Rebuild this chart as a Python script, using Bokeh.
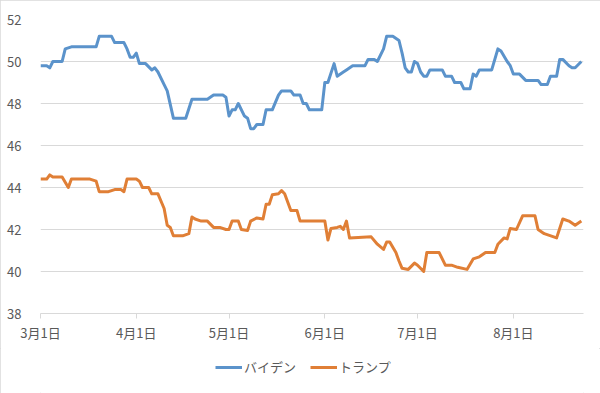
import pandas as pd
from bokeh.plotting import figure
from bokeh.layouts import column
from bokeh.models import Range1d, FixedTicker, Legend, LegendItem
from bokeh.embed import file_html
from bokeh.resources import INLINE

# ---------------- data ----------------
series_names = ["バイデン", "トランプ"]

biden_dates = [
    "2020-03-01", "2020-03-03", "2020-03-04", "2020-03-05", "2020-03-08", "2020-03-09",
    "2020-03-11", "2020-03-19", "2020-03-20", "2020-03-24", "2020-03-25", "2020-03-28",
    "2020-03-29", "2020-03-30", "2020-03-31", "2020-04-01", "2020-04-02", "2020-04-04",
    "2020-04-06", "2020-04-07", "2020-04-08", "2020-04-10", "2020-04-11", "2020-04-13",
    "2020-04-17", "2020-04-19", "2020-04-24", "2020-04-26", "2020-04-29", "2020-04-30",
    "2020-05-01", "2020-05-02", "2020-05-03", "2020-05-04", "2020-05-06", "2020-05-07",
    "2020-05-08", "2020-05-09", "2020-05-10", "2020-05-12", "2020-05-13", "2020-05-15",
    "2020-05-17", "2020-05-18", "2020-05-21", "2020-05-22", "2020-05-24", "2020-05-25",
    "2020-05-26", "2020-05-27", "2020-05-31", "2020-06-01", "2020-06-02", "2020-06-04",
    "2020-06-05", "2020-06-07", "2020-06-08", "2020-06-10", "2020-06-14", "2020-06-15",
    "2020-06-17", "2020-06-18", "2020-06-20", "2020-06-21", "2020-06-23", "2020-06-25",
    "2020-06-26", "2020-06-27", "2020-06-28", "2020-06-29", "2020-06-30", "2020-07-01",
    "2020-07-02", "2020-07-03", "2020-07-04", "2020-07-05", "2020-07-09", "2020-07-10",
    "2020-07-12", "2020-07-13", "2020-07-15", "2020-07-16", "2020-07-18", "2020-07-19",
    "2020-07-20", "2020-07-21", "2020-07-25", "2020-07-27", "2020-07-28", "2020-07-30",
    "2020-07-31", "2020-08-01", "2020-08-03", "2020-08-05", "2020-08-09", "2020-08-10",
    "2020-08-12", "2020-08-13", "2020-08-15", "2020-08-16", "2020-08-17", "2020-08-19",
    "2020-08-20", "2020-08-21", "2020-08-23",
]
biden_values = [
    49.8, 49.8, 49.7, 50.0, 50.0, 50.6,
    50.7, 50.7, 51.2, 51.2, 50.9, 50.9,
    50.6, 50.2, 50.2, 50.4, 49.9, 49.9,
    49.6, 49.7, 49.5, 48.9, 48.6, 47.3,
    47.3, 48.2, 48.2, 48.4, 48.4, 48.3,
    47.4, 47.7, 47.7, 48.0, 47.4, 47.3,
    46.8, 46.8, 47.0, 47.0, 47.7, 47.7,
    48.4, 48.6, 48.6, 48.4, 48.4, 48.0,
    48.0, 47.7, 47.7, 49.0, 49.0, 49.9,
    49.3, 49.5, 49.6, 49.8, 49.8, 50.1,
    50.1, 50.0, 50.6, 51.2, 51.2, 51.0,
    50.4, 49.7, 49.5, 49.5, 50.0, 49.9,
    49.5, 49.3, 49.3, 49.6, 49.6, 49.3,
    49.3, 49.0, 49.0, 48.7, 48.7, 49.4,
    49.3, 49.6, 49.6, 50.6, 50.5, 50.0,
    49.8, 49.4, 49.4, 49.1, 49.1, 48.9,
    48.9, 49.3, 49.3, 50.1, 50.1, 49.8,
    49.7, 49.7, 50.0,
]

trump_dates = [
    "2020-03-01", "2020-03-03", "2020-03-04", "2020-03-05", "2020-03-08", "2020-03-10",
    "2020-03-11", "2020-03-17", "2020-03-19", "2020-03-20", "2020-03-23", "2020-03-25",
    "2020-03-27", "2020-03-28", "2020-03-29", "2020-04-01", "2020-04-02", "2020-04-03",
    "2020-04-05", "2020-04-06", "2020-04-08", "2020-04-10", "2020-04-11", "2020-04-12",
    "2020-04-13", "2020-04-16", "2020-04-18", "2020-04-19", "2020-04-20", "2020-04-22",
    "2020-04-24", "2020-04-26", "2020-04-28", "2020-04-30", "2020-05-01", "2020-05-02",
    "2020-05-04", "2020-05-05", "2020-05-07", "2020-05-08", "2020-05-10", "2020-05-12",
    "2020-05-13", "2020-05-14", "2020-05-15", "2020-05-17", "2020-05-18", "2020-05-19",
    "2020-05-21", "2020-05-23", "2020-05-24", "2020-06-01", "2020-06-02", "2020-06-03",
    "2020-06-05", "2020-06-06", "2020-06-07", "2020-06-08", "2020-06-09", "2020-06-16",
    "2020-06-18", "2020-06-20", "2020-06-21", "2020-06-22", "2020-06-24", "2020-06-25",
    "2020-06-26", "2020-06-28", "2020-06-30", "2020-07-01", "2020-07-03", "2020-07-04",
    "2020-07-08", "2020-07-10", "2020-07-12", "2020-07-14", "2020-07-17", "2020-07-19",
    "2020-07-21", "2020-07-23", "2020-07-26", "2020-07-27", "2020-07-29", "2020-07-30",
    "2020-07-31", "2020-08-02", "2020-08-04", "2020-08-08", "2020-08-09", "2020-08-11",
    "2020-08-15", "2020-08-17", "2020-08-19", "2020-08-21", "2020-08-23",
]
trump_values = [
    44.4, 44.4, 44.6, 44.5, 44.5, 44.0,
    44.4, 44.4, 44.3, 43.8, 43.8, 43.9,
    43.9, 43.8, 44.4, 44.4, 44.3, 44.0,
    44.0, 43.7, 43.7, 43.0, 42.2, 42.1,
    41.7, 41.7, 41.8, 42.6, 42.5, 42.4,
    42.4, 42.1, 42.1, 42.0, 42.0, 42.4,
    42.4, 42.0, 41.95, 42.4, 42.55, 42.5,
    43.2, 43.2, 43.65, 43.7, 43.85, 43.7,
    42.9, 42.9, 42.4, 42.4, 41.5, 42.05,
    42.1, 42.15, 42.0, 42.4, 41.6, 41.65,
    41.3, 41.05, 41.4, 41.4, 40.9, 40.5,
    40.15, 40.1, 40.4, 40.3, 40.0, 40.9,
    40.9, 40.3, 40.3, 40.2, 40.1, 40.6,
    40.7, 40.9, 40.9, 41.3, 41.6, 41.55,
    42.05, 42.0, 42.65, 42.65, 42.0, 41.8,
    41.6, 42.5, 42.4, 42.2, 42.4,
]

tick_dates = ["2020-03-01", "2020-04-01", "2020-05-01", "2020-06-01", "2020-07-01", "2020-08-01"]
tick_labels = ["3月1日", "4月1日", "5月1日", "6月1日", "7月1日", "8月1日"]
y_ticks = [38, 40, 42, 44, 46, 48, 50, 52]

# ---------------- helpers ----------------
start = pd.Timestamp(tick_dates[0])


def to_day(ds):
    return [(pd.Timestamp(d) - start).days for d in ds]


biden_x = to_day(biden_dates)
trump_x = to_day(trump_dates)
tick_x = to_day(tick_dates)

FONT = "Noto Sans CJK JP"
TEXT = "#595959"
GRID = "#D9D9D9"
BLUE = "#5B93CB"
ORANGE = "#E07F36"

W = 600
H_MAIN = 348
H_LEG = 45

p = figure(
    width=W, height=H_MAIN,
    output_backend="svg", toolbar_location=None,
    x_range=Range1d(0, 175.7), y_range=Range1d(38, 52),
    min_border_left=40, min_border_right=17, min_border_top=19, min_border_bottom=35,
)
p.outline_line_color = None
p.background_fill_color = "white"
p.border_fill_color = "white"

r_b = p.line(biden_x, biden_values, line_width=3, color=BLUE, line_join="round")
r_t = p.line(trump_x, trump_values, line_width=3, color=ORANGE, line_join="round")

# y axis
p.yaxis.ticker = FixedTicker(ticks=y_ticks)
p.yaxis.axis_line_color = None
p.yaxis.major_tick_line_color = None
p.yaxis.minor_tick_line_color = None
p.yaxis.major_label_standoff = 13
p.yaxis.major_label_text_font = FONT
p.yaxis.major_label_text_font_size = "13px"
p.yaxis.major_label_text_color = TEXT

# x axis
p.xaxis.ticker = FixedTicker(ticks=tick_x)
p.xaxis.major_label_overrides = {t: l for t, l in zip(tick_x, tick_labels)}
p.xaxis.axis_line_color = GRID
p.xaxis.major_tick_line_color = GRID
p.xaxis.major_tick_out = 5
p.xaxis.major_tick_in = 0
p.xaxis.minor_tick_line_color = None
p.xaxis.major_label_standoff = 4
p.xaxis.major_label_text_font = FONT
p.xaxis.major_label_text_font_size = "13px"
p.xaxis.major_label_text_color = TEXT

# grid
p.xgrid.visible = False
p.ygrid.ticker = FixedTicker(ticks=y_ticks)
p.ygrid.grid_line_color = GRID
p.ygrid.grid_line_width = 1

# ---------------- legend strip ----------------
q = figure(
    width=W, height=H_LEG,
    output_backend="svg", toolbar_location=None,
    x_axis_location=None, y_axis_location=None,
    x_range=Range1d(0, 1), y_range=Range1d(0, 1),
    min_border_left=0, min_border_right=0, min_border_top=0, min_border_bottom=0,
)
q.outline_line_color = None
q.xgrid.visible = False
q.ygrid.visible = False
q.background_fill_color = "white"
q.border_fill_color = "white"

# legend-only renderers, placed outside the visible range
l_b = q.line(x=[-5, -4], y=[-5, -4], line_width=3, color=BLUE)
l_t = q.line(x=[-5, -4], y=[-5, -4], line_width=3, color=ORANGE)

legend = Legend(
    items=[LegendItem(label=series_names[0], renderers=[l_b]),
           LegendItem(label=series_names[1], renderers=[l_t])],
    orientation="horizontal", location=(175, 17),
    label_text_font=FONT, label_text_font_size="13px", label_text_color=TEXT,
    glyph_width=27, glyph_height=14, label_standoff=2, spacing=14,
    border_line_color=None, background_fill_alpha=0,
    padding=4, margin=0,
)
q.add_layout(legend, "center")

layout = column(p, q, spacing=0,
                styles={"outline": "1px solid #D9D9D9", "outline-offset": "-1px"})

open("out.html", "w").write(file_html(layout, INLINE))
